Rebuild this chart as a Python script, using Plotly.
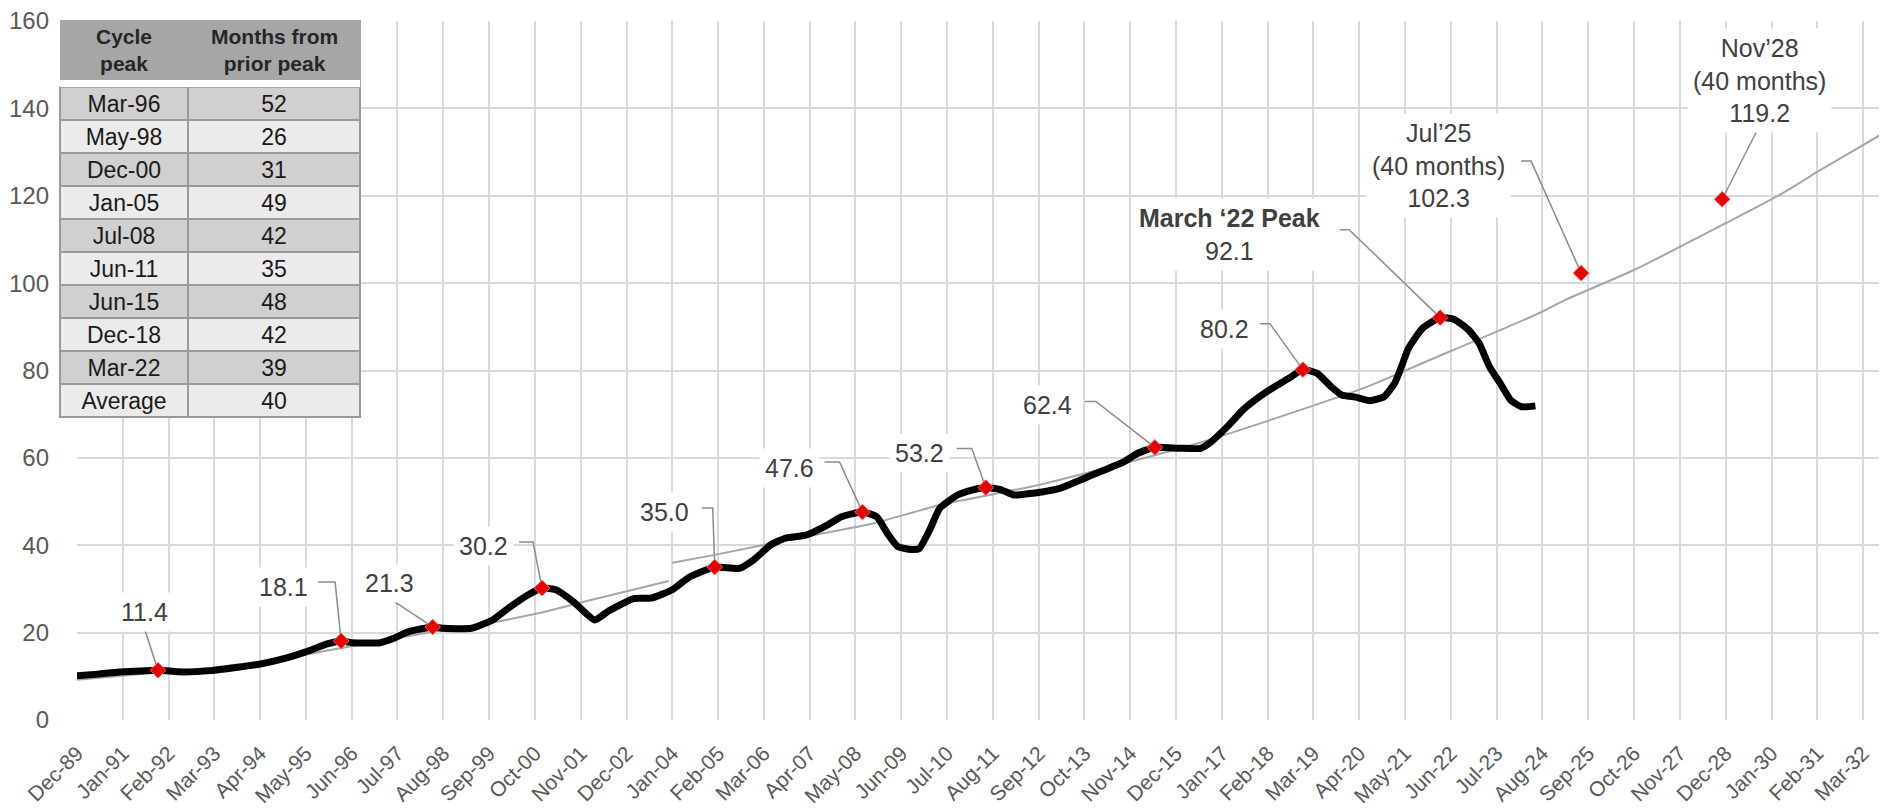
import plotly.graph_objects as go

# ---------------- data ----------------
index_dates = [
    "1989-12-01", "1990-06-01", "1990-12-01", "1991-06-01", "1991-11-01", "1992-06-01",
    "1993-02-01", "1993-09-01", "1994-04-01", "1994-11-01", "1995-05-01", "1995-11-01",
    "1996-03-01", "1996-06-01", "1997-02-01", "1997-06-01", "1997-10-01", "1998-05-01",
    "1998-08-01", "1999-04-01", "1999-10-01", "2000-03-01", "2000-08-01", "2000-12-01",
    "2001-04-01", "2001-09-01", "2002-03-01", "2002-07-01", "2003-02-01", "2003-07-01",
    "2004-01-01", "2004-06-01", "2005-01-01", "2005-08-01", "2005-12-01", "2006-05-01",
    "2006-09-01", "2007-03-01", "2007-09-01", "2008-01-01", "2008-07-01", "2008-11-01",
    "2009-02-01", "2009-05-01", "2009-08-01", "2009-11-01", "2010-02-01", "2010-05-01",
    "2010-10-01", "2011-02-01", "2011-06-01", "2011-10-01", "2012-02-01", "2012-06-01",
    "2012-10-01", "2013-03-01", "2013-09-01", "2014-03-01", "2014-09-01", "2015-01-01",
    "2015-06-01", "2016-01-01", "2016-07-01", "2016-10-01", "2017-03-01", "2017-07-01",
    "2017-12-01", "2018-04-01", "2018-08-01", "2018-12-01", "2019-04-01", "2019-08-01",
    "2019-11-01", "2020-03-01", "2020-07-01", "2020-11-01", "2021-02-01", "2021-04-01",
    "2021-06-01", "2021-10-01", "2022-03-01", "2022-07-01", "2022-11-01", "2023-02-01",
    "2023-05-01", "2023-08-01", "2023-11-01", "2024-02-01", "2024-06-01",
]
index_values = [
    10.1, 10.5, 11.0, 11.2, 11.4, 11.0,
    11.3, 12.0, 12.8, 14.1, 15.6, 17.4,
    18.1, 17.7, 17.7, 18.7, 20.2, 21.3,
    21.0, 21.0, 22.9, 25.9, 28.6, 30.2,
    29.8, 27.0, 22.9, 25.0, 27.8, 27.9,
    29.8, 32.8, 35.0, 34.7, 36.6, 40.1,
    41.6, 42.3, 44.6, 46.5, 47.6, 46.5,
    42.7, 39.7, 39.1, 39.2, 43.5, 48.5,
    51.5, 52.6, 53.2, 52.8, 51.5, 51.8,
    52.2, 53.0, 55.0, 57.0, 59.0, 61.0,
    62.4, 62.2, 62.2, 63.7, 67.5, 71.0,
    74.2, 76.3, 78.2, 80.2, 79.4, 76.3,
    74.4, 73.9, 73.1, 74.0, 77.1, 80.9,
    85.1, 89.7, 92.1, 91.7, 89.3, 86.2,
    80.9, 77.1, 73.2, 71.7, 71.9,
]

trend_early_dates = ["1989-12-01", "1991-12-01", "1993-03-01", "1994-12-01", "1996-03-01",
                     "1998-05-01", "1999-12-01", "2000-12-01", "2002-01-01", "2003-12-01"]
trend_early_values = [9.2, 10.9, 12.0, 14.3, 16.4, 20.2, 22.6, 24.6, 27.3, 31.8]

trend_late_dates = ["2004-01-01", "2005-01-01", "2007-03-01", "2008-10-01", "2010-05-01",
                    "2012-09-01", "2016-06-01", "2020-05-01", "2021-12-01", "2024-07-01",
                    "2025-02-01", "2026-10-01", "2028-12-01", "2030-04-01", "2031-03-01",
                    "2032-10-01"]
trend_late_values = [36.0, 37.8, 42.0, 45.0, 49.2, 53.8, 63.3, 75.9, 82.4, 93.1,
                     96.0, 103.0, 113.7, 120.5, 125.9, 134.9]

peak_dates = ["1991-11-01", "1996-03-01", "1998-05-01", "2000-12-01", "2005-01-01",
              "2008-07-01", "2011-06-01", "2015-06-01", "2018-12-01", "2022-03-01",
              "2025-07-01", "2028-11-01"]
peak_values = [11.4, 18.1, 21.3, 30.2, 35.0, 47.6, 53.2, 62.4, 80.2, 92.1, 102.3, 119.2]
peak_labels = ["11.4", "18.1", "21.3", "30.2", "35.0", "47.6", "53.2", "62.4", "80.2",
               "<b>March \u201822 Peak</b><br>92.1",
               "Jul\u201925<br>(40 months)<br>102.3",
               "Nov\u201928<br>(40 months)<br>119.2"]

table_header = ["<b>Cycle</b><br><b>peak</b>", "<b>Months from</b><br><b>prior peak</b>"]
table_peaks = ["Mar-96", "May-98", "Dec-00", "Jan-05", "Jul-08", "Jun-11",
               "Jun-15", "Dec-18", "Mar-22", "Average"]
table_months = [52, 26, 31, 49, 42, 35, 48, 42, 39, 40]

# ---------------- styling (layout only) ----------------
WIN_W, WIN_H = 1887, 809
PAGE_MARGIN = 8                      # default <body> margin of the html page
W, H = WIN_W - PAGE_MARGIN, WIN_H - PAGE_MARGIN


def fx(px):   # window pixel -> figure pixel
    return px - PAGE_MARGIN


FONT = "Liberation Sans, Arial, sans-serif"
label_shift = [(-14, 58), (-58, 54), (-43, 44), (-59, 42), (-50, 55), (-73, 44),
               (-66, 35), (-107, 42), (-78, 41), (-211, 83), (-143, 108), (37, 119)]
leader_paths = ["M 0 0 L -15 46", "M 0 0 L -6 59 L -23 59", "M 0 0 L -44 29",
                "M 0 0 L -9 46 L -23 46", "M 0 0 L -2 59 L -13 59", "M 0 0 L -23 50 L -38 50",
                "M 0 0 L -14 39 L -29 39", "M 0 0 L -59 46 L -70 46", "M 0 0 L -33 46 L -43 46",
                "M 0 0 L -91 88 L -100 88", "M 0 0 L -50 112 L -60 112", "M 0 0 L 35 69"]

plot_left, plot_top, plot_bottom = fx(77), fx(21), fx(720)

fig = go.Figure()

fig.add_trace(go.Scatter(x=trend_early_dates, y=trend_early_values, mode="lines",
                         line=dict(color="#a6a6a6", width=2), hoverinfo="skip", showlegend=False))
fig.add_trace(go.Scatter(x=trend_late_dates, y=trend_late_values, mode="lines",
                         line=dict(color="#a6a6a6", width=2, shape="spline", smoothing=0.6),
                         hoverinfo="skip", showlegend=False))
fig.add_trace(go.Scatter(x=index_dates, y=index_values, mode="lines",
                         line=dict(color="#000000", width=7, shape="spline", smoothing=0.5),
                         showlegend=False))
fig.add_trace(go.Scatter(x=peak_dates, y=peak_values, mode="markers",
                         marker=dict(symbol="diamond", size=12, color="#e60000",
                                     line=dict(width=1, color="#ff5a5a")),
                         showlegend=False))

for d, v, p in zip(peak_dates, peak_values, leader_paths):
    fig.add_shape(type="path", xref="x", yref="y", xsizemode="pixel", ysizemode="pixel",
                  xanchor=d, yanchor=v, path=p, layer="between",
                  line=dict(color="#8c8c8c", width=1.5))

for d, v, t, (dx, dy) in zip(peak_dates, peak_values, peak_labels, label_shift):
    fig.add_annotation(x=d, y=v, text=t, showarrow=False, xshift=dx, yshift=dy,
                       xanchor="center", yanchor="middle", align="center",
                       bgcolor="white", borderpad=5,
                       font=dict(family=FONT, size=25, color="#404040"))

# ---- table ----
row_fill = ["#d0d0d0" if i % 2 == 0 else "#ebebeb" for i in range(len(table_peaks))]
col_w = [128, 172]
tab_x0, tab_top, tab_bottom = fx(60), fx(20), fx(420)
tab_x1 = tab_x0 + sum(col_w)
header_h, gap_h = 67, 7
fig.add_trace(go.Table(
    domain=dict(x=[tab_x0 / W, tab_x1 / W], y=[1 - tab_bottom / H, 1 - tab_top / H]),
    columnwidth=col_w,
    header=dict(values=["", ""], fill_color="#a6a6a6",
                line=dict(color="#a6a6a6", width=1), height=header_h, align="center",
                font=dict(family=FONT, size=10, color="#262626")),
    cells=dict(values=[table_peaks, table_months], fill_color=[row_fill, row_fill],
               line=dict(color="#9a9a9a", width=1.5), height=33, align="center",
               font=dict(family=FONT, size=23, color="#1a1a1a")),
))
col_centers = [tab_x0 + col_w[0] / 2, tab_x0 + col_w[0] + col_w[1] / 2]
for cx, t in zip(col_centers, table_header):
    fig.add_annotation(xref="paper", yref="paper", x=cx / W,
                       y=1 - (tab_top + (header_h - gap_h) / 2) / H,
                       text=t, showarrow=False, xanchor="center", yanchor="middle",
                       align="center", font=dict(family=FONT, size=21, color="#262626"))
gap_y = 1 - (tab_top + header_h - gap_h / 2) / H
fig.add_shape(type="line", xref="paper", yref="paper", layer="above",
              x0=tab_x0 / W, x1=tab_x1 / W, y0=gap_y, y1=gap_y,
              line=dict(color="white", width=gap_h))

fig.update_layout(
    width=W, height=H,
    margin=dict(l=0, r=0, t=0, b=0),
    paper_bgcolor="white", plot_bgcolor="white",
    font=dict(family=FONT, color="#595959"),
    xaxis=dict(type="date", domain=[plot_left / W, 1],
               range=["1989-12-01", "2032-09-25"],
               tick0="1989-12-01", dtick="M13", tickformat="%b-%y", tickangle=-45,
               showgrid=True, gridcolor="#d9d9d9", gridwidth=1.5,
               zeroline=False, showline=False, ticks="", ticklabelstandoff=16,
               ticklabeloverflow="allow",
               tickfont=dict(family=FONT, size=21, color="#595959"), automargin=False),
    yaxis=dict(domain=[1 - plot_bottom / H, 1 - plot_top / H], range=[0, 160], dtick=20,
               showgrid=True, gridcolor="#d9d9d9", gridwidth=1.5,
               zeroline=False, showline=False, ticks="", ticklabelstandoff=27,
               ticklabeloverflow="allow",
               tickfont=dict(family=FONT, size=24, color="#595959"), automargin=False),
)

fig.write_html("out.html")
